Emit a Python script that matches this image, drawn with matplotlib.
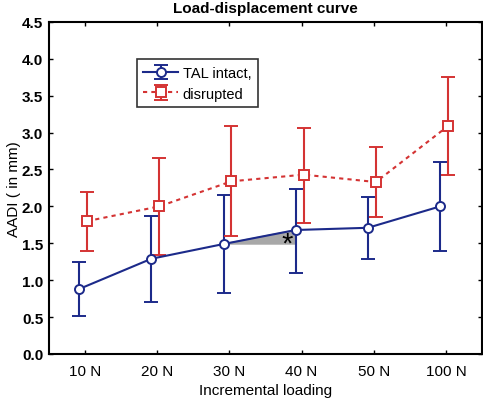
import numpy as np
import matplotlib.pyplot as plt

plt.rcParams['font.family'] = ['Liberation Sans', 'DejaVu Sans']

labels = ['10 N', '20 N', '30 N', '40 N', '50 N', '100 N']
intact = [0.88, 1.29, 1.49, 1.68, 1.71, 2.00]
intact_lo = [0.52, 0.70, 0.82, 1.10, 1.29, 1.40]
intact_hi = [1.24, 1.87, 2.16, 2.24, 2.13, 2.60]
disrupted = [1.80, 2.00, 2.34, 2.43, 2.33, 3.09]
disrupted_lo = [1.39, 1.34, 1.60, 1.78, 1.86, 2.42]
disrupted_hi = [2.19, 2.66, 3.09, 3.06, 2.81, 3.76]

blue = '#1c2a8a'
red = '#d43333'

x = np.arange(1, len(labels) + 1)
xb = x - 0.08
xr = x + 0.03

fig = plt.figure(figsize=(4.83, 4.02), dpi=100)
ax = fig.add_axes([0.101, 0.117, 0.897, 0.826])

# shaded triangle between 30 N and 40 N of the intact curve
ax.fill([xb[2], xb[3], xb[3]], [intact[2], intact[3], intact[2]],
        color='#a8a8a8', zorder=1)
ax.text(xb[3] - 0.12, 1.50, '*', fontsize=21, ha='center', va='center', zorder=5)

ib = ax.errorbar(xb, intact,
                 yerr=[np.subtract(intact, intact_lo), np.subtract(intact_hi, intact)],
                 color=blue, lw=1.5, elinewidth=1.5, capsize=5, capthick=1.5,
                 marker='o', ms=6.5, mfc='white', mec=blue, mew=1.4,
                 label='TAL intact,', zorder=3)
rb = ax.errorbar(xr, disrupted,
                 yerr=[np.subtract(disrupted, disrupted_lo), np.subtract(disrupted_hi, disrupted)],
                 color=red, lw=1.5, ls=(0, (2, 2)), elinewidth=1.5, capsize=5, capthick=1.5,
                 marker='s', ms=6.5, mfc='white', mec=red, mew=1.4,
                 label='disrupted', zorder=3)
rb[-1][0].set_linestyle('-')

ax.set_xlim(0.5, 6.5)
ax.set_ylim(0, 4.5)
ax.set_xticks(x)
ax.set_xticklabels(labels, fontsize=11)
ax.set_yticks(np.arange(0, 4.51, 0.5))
ax.set_yticklabels(['%.1f' % v for v in np.arange(0, 4.51, 0.5)],
                   fontsize=11, fontweight='bold')
ax.tick_params(direction='in', length=3, top=True, right=True, width=1)
ax.tick_params(axis='y', pad=4)
ax.tick_params(axis='x', pad=7)
for s in ax.spines.values():
    s.set_linewidth(1.5)

ax.set_xlabel('Incremental loading', fontsize=11, labelpad=4)
ax.set_ylabel('AADI ( in mm)', fontsize=11, labelpad=1)
ax.set_title('Load-displacement curve', fontsize=11, fontweight='bold', pad=7)

leg = ax.legend(loc='upper left', bbox_to_anchor=(0.203, 0.887), fontsize=10.5,
                frameon=True, fancybox=False, edgecolor='black',
                handlelength=2.4, borderpad=0.45, labelspacing=0.45,
                handletextpad=0.3, borderaxespad=0)
leg.get_frame().set_linewidth(1.2)

fig.savefig('out.png', dpi=100)
